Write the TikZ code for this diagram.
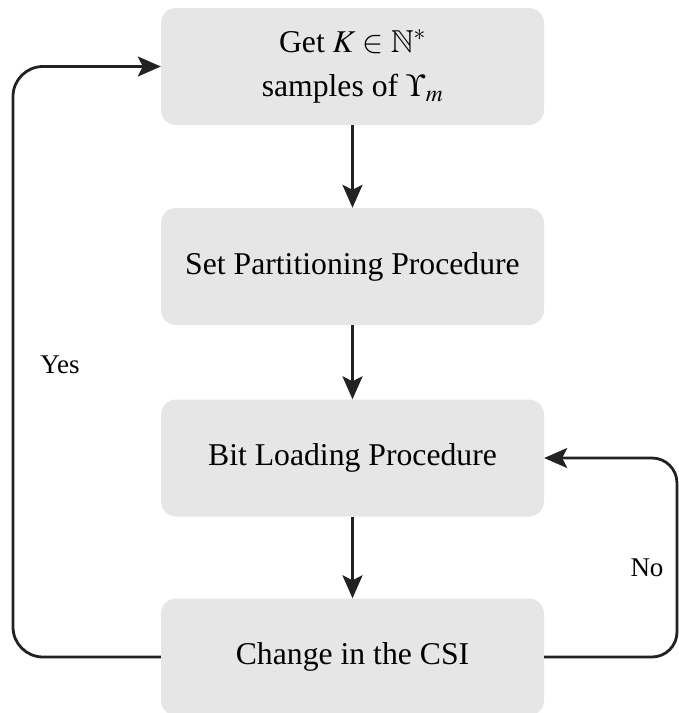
\documentclass[tikz,border=0pt]{standalone}
\usepackage{mathptmx}
\usepackage{amssymb}
\usepackage[no-math]{fontspec}
\setmainfont{Liberation Serif}
\usetikzlibrary{arrows.meta}
\definecolor{boxfill}{HTML}{E6E6E6}
\definecolor{linecol}{HTML}{222222}
\tikzset{
  stepbox/.style={rectangle, rounded corners=15pt, fill=boxfill, draw=none,
    minimum width=383pt, minimum height=117pt, align=center, inner sep=0pt,
    font=\fontsize{31.7}{44}\selectfont},
  arr/.style={draw=linecol, line width=2.8pt,
    -{Stealth[length=23pt,width=20pt,inset=5pt]}},
  loopline/.style={draw=linecol, line width=2.8pt},
  lbl/.style={font=\fontsize{27}{32}\selectfont, inner sep=0pt}
}
\begin{document}
\begin{tikzpicture}[x=1pt,y=-1pt]
\path[use as bounding box] (0,0) rectangle (679,713);
\node[stepbox] (b1) at (352.5,66.5) {Get $K \in \mathbb{N}^{*}$\\ samples of $\Upsilon_m$};
\node[stepbox] (b2) at (352.5,266.5) {Set Partitioning Procedure};
\node[stepbox] (b3) at (352.5,458) {Bit Loading Procedure};
\node[stepbox] (b4) at (352.5,657) {Change in the CSI};
\coordinate (lx) at (13,0);
\coordinate (rx) at (677,0);
\draw[arr] (b1) -- (b2);
\draw[arr] (b2) -- (b3);
\draw[arr] (b3) -- (b4);
\draw[arr, rounded corners=30pt] (b4.west) -- (b4.west -| lx) -- (lx |- b1.west) -- (b1.west);
\draw[arr, rounded corners=25pt] (b4.east) -- (b4.east -| rx) -- (rx |- b3.east) -- (b3.east);
\node[lbl] (yes) at (60,365) {Yes};
\node[lbl] (no) at (647,568) {No};
\end{tikzpicture}
\end{document}
